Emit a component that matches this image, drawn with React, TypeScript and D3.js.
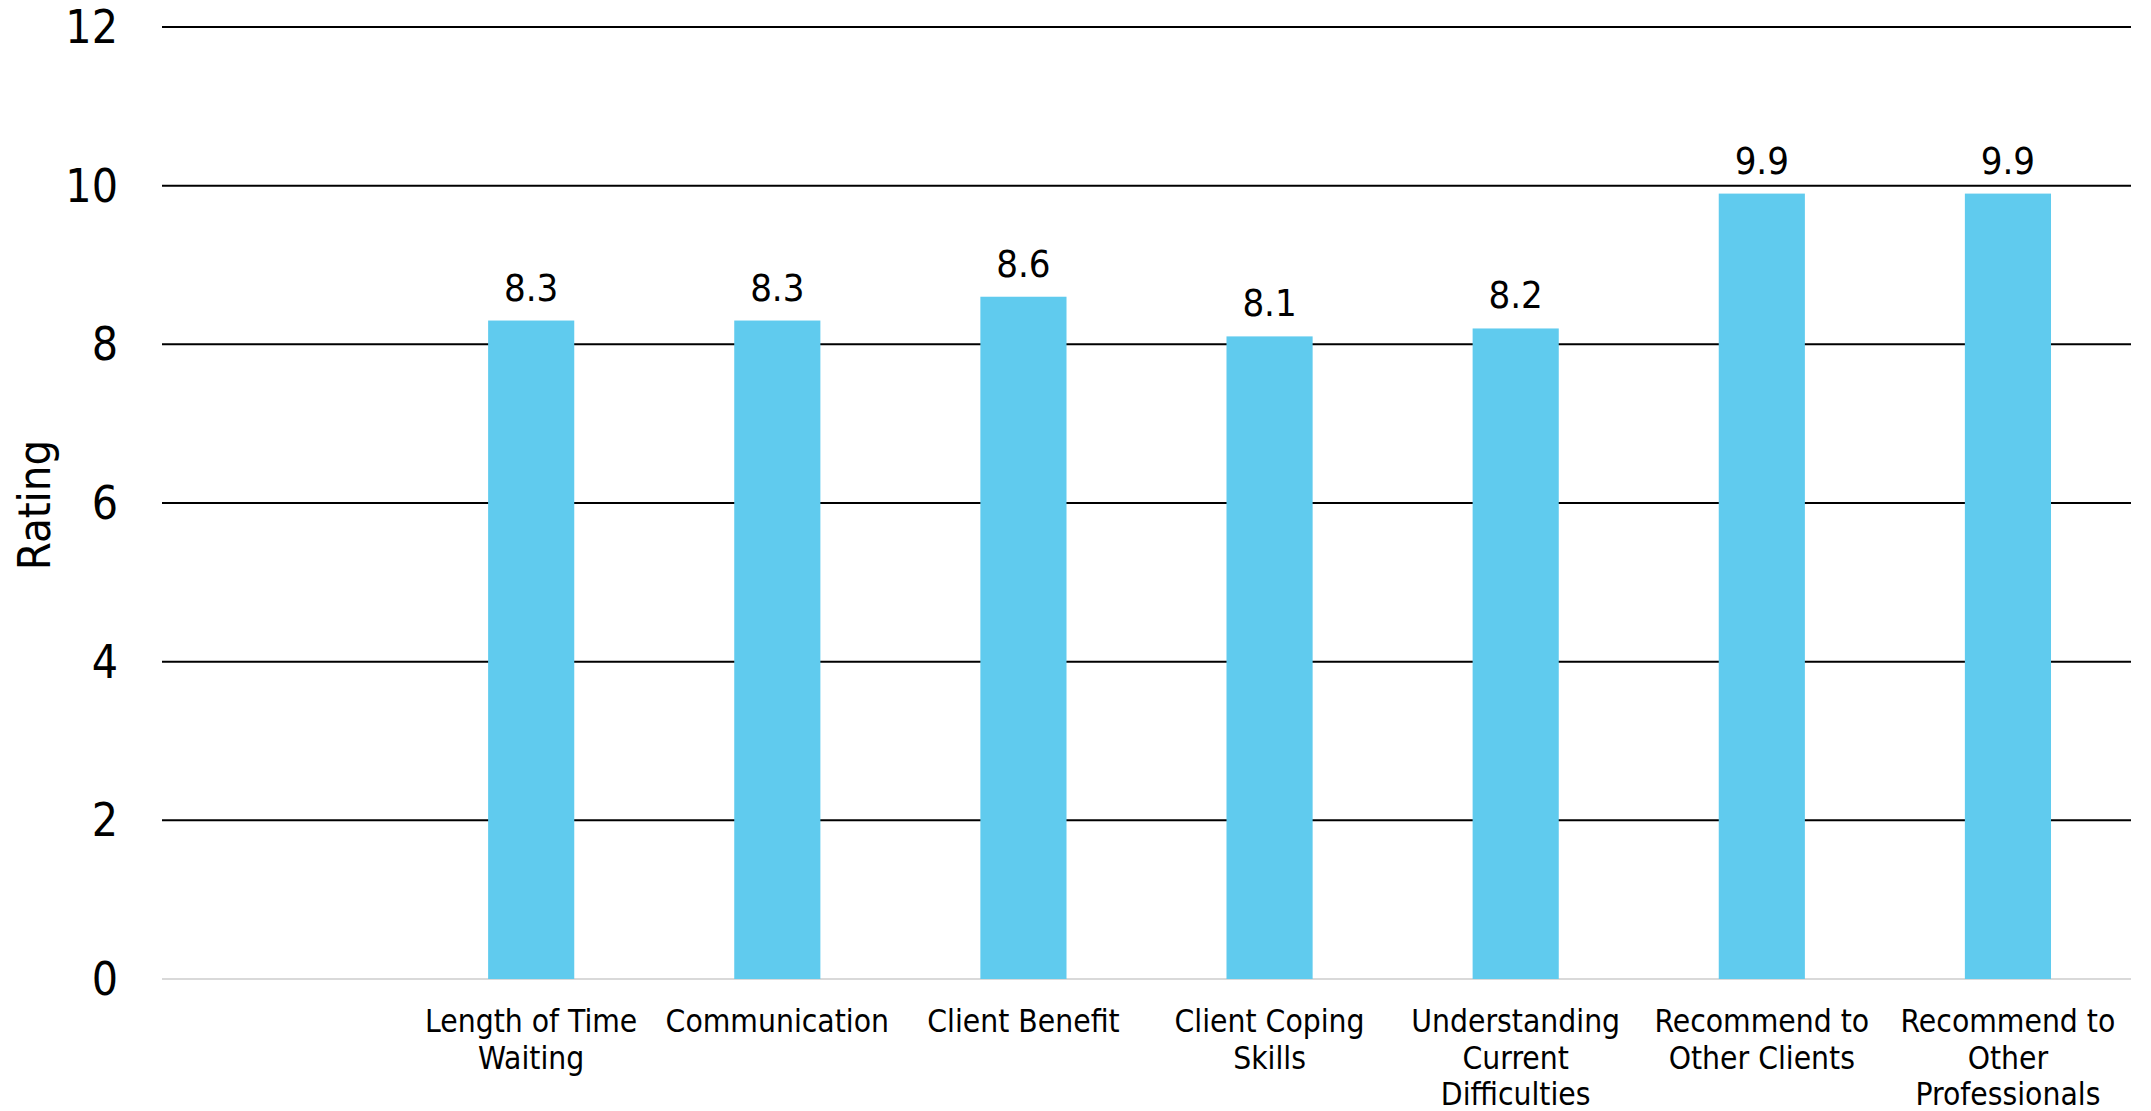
import React from "react";
import * as d3 from "d3";

const categories: string[] = [
  "",
  "Length of Time\nWaiting",
  "Communication",
  "Client Benefit",
  "Client Coping\nSkills",
  "Understanding\nCurrent\nDifficulties",
  "Recommend to\nOther Clients",
  "Recommend to\nOther\nProfessionals",
];
const ratings: (number | null)[] = [null, 8.3, 8.3, 8.6, 8.1, 8.2, 9.9, 9.9];
const yTicks: number[] = [0, 2, 4, 6, 8, 10, 12];
const yTitle = "Rating";

const W = 2151;
const H = 1111;
const M = { left: 162, right: 20, top: 27, bottom: 132 };

const COND = "'DejaVu Sans Condensed', 'DejaVu Sans', sans-serif";

export default function App() {
  const x = d3
    .scaleBand<string>()
    .domain(categories.map((_, i) => String(i)))
    .range([M.left, W - M.right])
    .paddingInner(0.65)
    .paddingOuter(0.325);
  const y = d3.scaleLinear().domain([0, 12]).range([H - M.bottom, M.top]);

  return (
    <div style={{ position: "absolute", left: 0, top: 0, width: W, height: H, background: "#fff" }}>
      <svg width={W} height={H} style={{ display: "block" }}>
        {yTicks.map((t) => (
          <line
            key={"g" + t}
            x1={M.left}
            x2={W - M.right}
            y1={y(t)}
            y2={y(t)}
            stroke={t === 0 ? "#D9D9D9" : "#000"}
            strokeWidth={2}
          />
        ))}
        {yTicks.map((t) => (
          <text
            key={"t" + t}
            x={118}
            y={y(t)}
            textAnchor="end"
            dominantBaseline="central"
            fontFamily={COND}
            fontStretch="condensed"
            fontSize={46}
            fill="#000"
          >
            {t}
          </text>
        ))}
        <text
          transform={`translate(34, ${(y(0) + y(12)) / 2 + 2}) rotate(-90)`}
          textAnchor="middle"
          dominantBaseline="central"
          fontFamily={COND}
          fontStretch="condensed"
          fontSize={45}
          fill="#000"
        >
          {yTitle}
        </text>
        {ratings.map((v, i) =>
          v == null ? null : (
            <rect
              key={"b" + i}
              x={x(String(i))!}
              y={y(v)}
              width={x.bandwidth()}
              height={y(0) - y(v)}
              fill="#60CBEE"
            />
          )
        )}
        {ratings.map((v, i) =>
          v == null ? null : (
            <text
              key={"l" + i}
              x={x(String(i))! + x.bandwidth() / 2}
              y={y(v) - 20}
              textAnchor="middle"
              fontFamily={COND}
              fontStretch="condensed"
              fontSize={38}
              fill="#000"
            >
              {v.toFixed(1)}
            </text>
          )
        )}
        {categories.map((c, i) => {
          const cx = x(String(i))! + x.bandwidth() / 2;
          return (
            <text
              key={"c" + i}
              textAnchor="middle"
              fontFamily={COND}
              fontStretch="condensed"
              fontSize={31.5}
              fill="#000"
            >
              {c
                .split("\n")
                .filter((s) => s.length > 0)
                .map((line, j) => (
                  <tspan key={j} x={cx} y={1032 + j * 36.5}>
                    {line}
                  </tspan>
                ))}
            </text>
          );
        })}
      </svg>
    </div>
  );
}
